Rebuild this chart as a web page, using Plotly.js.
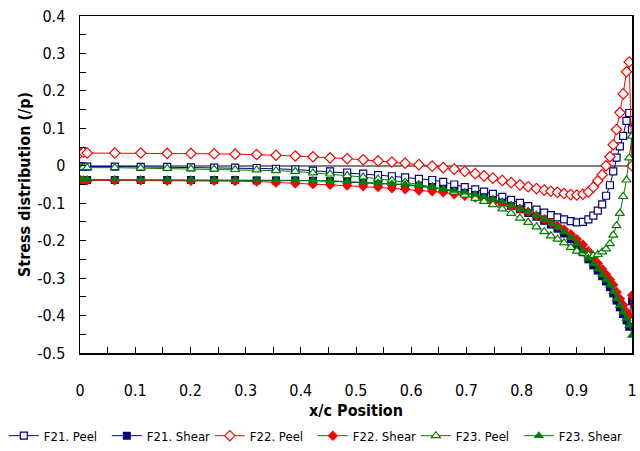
<!DOCTYPE html>
<html>
<head>
<meta charset="utf-8">
<script src="https://cdn.plot.ly/plotly-3.0.1.min.js"></script>
<style>
html,body{margin:0;padding:0;background:#fff;}
#chart{width:640px;height:451px;}
</style>
</head>
<body>
<div id="chart"></div>
<script>
// x/c positions (shared grid)
const xPos = [0, 0.006, 0.013, 0.063, 0.11, 0.158, 0.201, 0.243, 0.281, 0.32, 0.355, 0.39, 0.422, 0.453, 0.484, 0.513, 0.54, 0.565, 0.589, 0.614, 0.638, 0.658, 0.678, 0.697, 0.716, 0.732, 0.748, 0.765, 0.781, 0.797, 0.812, 0.827, 0.841, 0.853, 0.865, 0.877, 0.889, 0.9, 0.911, 0.921, 0.93, 0.938, 0.946, 0.953, 0.96, 0.966, 0.972, 0.978, 0.984, 0.99, 0.995, 1.0];

const f21Peel = [-0.001, -0.002, -0.002, -0.002, -0.003, -0.003, -0.004, -0.005, -0.005, -0.006, -0.008, -0.010, -0.013, -0.015, -0.018, -0.021, -0.025, -0.028, -0.031, -0.035, -0.038, -0.043, -0.050, -0.057, -0.063, -0.069, -0.075, -0.083, -0.091, -0.099, -0.108, -0.117, -0.125, -0.132, -0.138, -0.143, -0.148, -0.151, -0.150, -0.143, -0.133, -0.120, -0.103, -0.080, -0.052, -0.015, 0.022, 0.052, 0.080, 0.120, 0.141, 0.097];

const f21Shear = [-0.038, -0.038, -0.038, -0.038, -0.038, -0.038, -0.038, -0.038, -0.038, -0.039, -0.039, -0.039, -0.040, -0.041, -0.043, -0.045, -0.047, -0.049, -0.051, -0.054, -0.058, -0.063, -0.067, -0.072, -0.078, -0.084, -0.091, -0.098, -0.107, -0.116, -0.126, -0.136, -0.147, -0.157, -0.168, -0.181, -0.196, -0.212, -0.231, -0.250, -0.266, -0.280, -0.295, -0.309, -0.324, -0.341, -0.360, -0.378, -0.396, -0.413, -0.430, -0.362];

const f22Peel = [0.034, 0.036, 0.034, 0.034, 0.034, 0.033, 0.033, 0.032, 0.031, 0.030, 0.028, 0.026, 0.024, 0.021, 0.019, 0.016, 0.013, 0.010, 0.007, 0.003, -0.001, -0.005, -0.009, -0.015, -0.021, -0.027, -0.033, -0.039, -0.045, -0.051, -0.056, -0.061, -0.065, -0.068, -0.071, -0.074, -0.077, -0.078, -0.076, -0.070, -0.057, -0.040, -0.024, 0.000, 0.024, 0.056, 0.097, 0.142, 0.192, 0.251, 0.277, 0.000];

const f22Shear = [-0.038, -0.039, -0.039, -0.039, -0.039, -0.040, -0.040, -0.040, -0.041, -0.042, -0.045, -0.047, -0.049, -0.051, -0.053, -0.055, -0.057, -0.060, -0.063, -0.066, -0.068, -0.071, -0.076, -0.080, -0.085, -0.089, -0.095, -0.101, -0.108, -0.115, -0.123, -0.133, -0.143, -0.152, -0.161, -0.170, -0.183, -0.196, -0.211, -0.228, -0.245, -0.260, -0.276, -0.290, -0.304, -0.318, -0.337, -0.355, -0.372, -0.390, -0.400, -0.346];

const f23Peel = [-0.003, -0.004, -0.005, -0.005, -0.006, -0.007, -0.008, -0.009, -0.010, -0.011, -0.013, -0.015, -0.019, -0.022, -0.026, -0.030, -0.035, -0.039, -0.044, -0.050, -0.056, -0.063, -0.070, -0.078, -0.087, -0.095, -0.104, -0.115, -0.127, -0.140, -0.151, -0.163, -0.176, -0.187, -0.196, -0.206, -0.218, -0.228, -0.233, -0.238, -0.240, -0.237, -0.230, -0.222, -0.208, -0.185, -0.160, -0.127, -0.082, -0.038, 0.021, 0.079];

const f23Shear = [-0.037, -0.037, -0.037, -0.037, -0.037, -0.037, -0.037, -0.037, -0.037, -0.038, -0.038, -0.038, -0.039, -0.040, -0.042, -0.044, -0.046, -0.048, -0.050, -0.053, -0.057, -0.062, -0.066, -0.071, -0.077, -0.083, -0.089, -0.096, -0.105, -0.114, -0.123, -0.133, -0.143, -0.153, -0.164, -0.177, -0.192, -0.208, -0.228, -0.247, -0.262, -0.276, -0.291, -0.305, -0.319, -0.336, -0.355, -0.373, -0.391, -0.408, -0.426, -0.453];

const seriesNames = ["F21. Peel", "F21. Shear", "F22. Peel", "F22. Shear", "F23. Peel", "F23. Shear"];

// tick labels
const yTickVals = [-0.5, -0.4, -0.3, -0.2, -0.1, 0, 0.1, 0.2, 0.3, 0.4];
const yTickText = ["-0.5", "-0.4", "-0.3", "-0.2", "-0.1", "0", "0.1", "0.2", "0.3", "0.4"];
const xTickVals = [0, 0.1, 0.2, 0.3, 0.4, 0.5, 0.6, 0.7, 0.8, 0.9, 1];
const xTickText = ["0", "0.1", "0.2", "0.3", "0.4", "0.5", "0.6", "0.7", "0.8", "0.9", "1"];

const BLUE = "#000080", RED = "#FF0000", GREEN = "#008000";
const FONT = "'DejaVu Sans Condensed', 'Liberation Sans Narrow', sans-serif";

function tr(name, y, color, symbol, filled, size) {
  return {
    type: "scatter", mode: "lines+markers", name: name, x: xPos, y: y,
    line: {color: color, width: 1},
    marker: {symbol: symbol, size: size, color: filled ? color : "#ffffff",
             line: {color: color, width: filled ? 0 : 1.2}}
  };
}

const data = [
  tr(seriesNames[0], f21Peel, BLUE, "square", false, 7),
  tr(seriesNames[1], f21Shear, BLUE, "square", true, 8),
  tr(seriesNames[2], f22Peel, RED, "diamond", false, 8),
  tr(seriesNames[3], f22Shear, RED, "diamond", true, 8),
  tr(seriesNames[4], f23Peel, GREEN, "triangle-up", false, 8),
  tr(seriesNames[5], f23Shear, GREEN, "triangle-up", true, 9)
];

const minorTicks = {ticks: "inside", ticklen: 6, tickwidth: 1, tickcolor: "#000", showgrid: false,
                    tickmode: "linear", tick0: 0, dtick: 0.05};

const axisCommon = {
  showline: true, mirror: true, linecolor: "#000", linewidth: 1.5,
  ticks: "inside", ticklen: 6, tickwidth: 1, tickcolor: "#000",
  showgrid: false, tickfont: {family: FONT, size: 16, color: "#000"},
  tickmode: "array", minor: minorTicks, automargin: true
};

const layout = {
  width: 640, height: 451,
  margin: {l: 80, r: 8, t: 16, b: 98, autoexpand: false},
  paper_bgcolor: "#fff", plot_bgcolor: "#fff",
  font: {family: FONT, color: "#000"},
  showlegend: true,
  legend: {orientation: "h", xref: "paper", yref: "paper", x: -0.138, xanchor: "left", y: -0.29, yanchor: "bottom",
           font: {family: FONT, size: 13, color: "#000"}, itemwidth: 30, entrywidth: 58, entrywidthmode: "pixels",
           tracegroupgap: 0, bgcolor: "rgba(0,0,0,0)"},
  xaxis: Object.assign({}, axisCommon, {
    range: [0, 1], tickvals: xTickVals, ticktext: xTickText, zeroline: false,
    ticklabelstandoff: 22,
    title: {text: "<b>x/c Position</b>", font: {family: FONT, size: 16, color: "#000"}, standoff: 6}
  }),
  yaxis: Object.assign({}, axisCommon, {
    range: [-0.5, 0.4], tickvals: yTickVals, ticktext: yTickText,
    zeroline: true, zerolinecolor: "#808080", zerolinewidth: 2,
    ticklabelstandoff: 10,
    title: {text: "<b>Stress distribution (/p)</b>", font: {family: FONT, size: 16, color: "#000"}, standoff: 2}
  })
};

Plotly.newPlot("chart", data, layout, {staticPlot: true, displayModeBar: false});
</script>
</body>
</html>
